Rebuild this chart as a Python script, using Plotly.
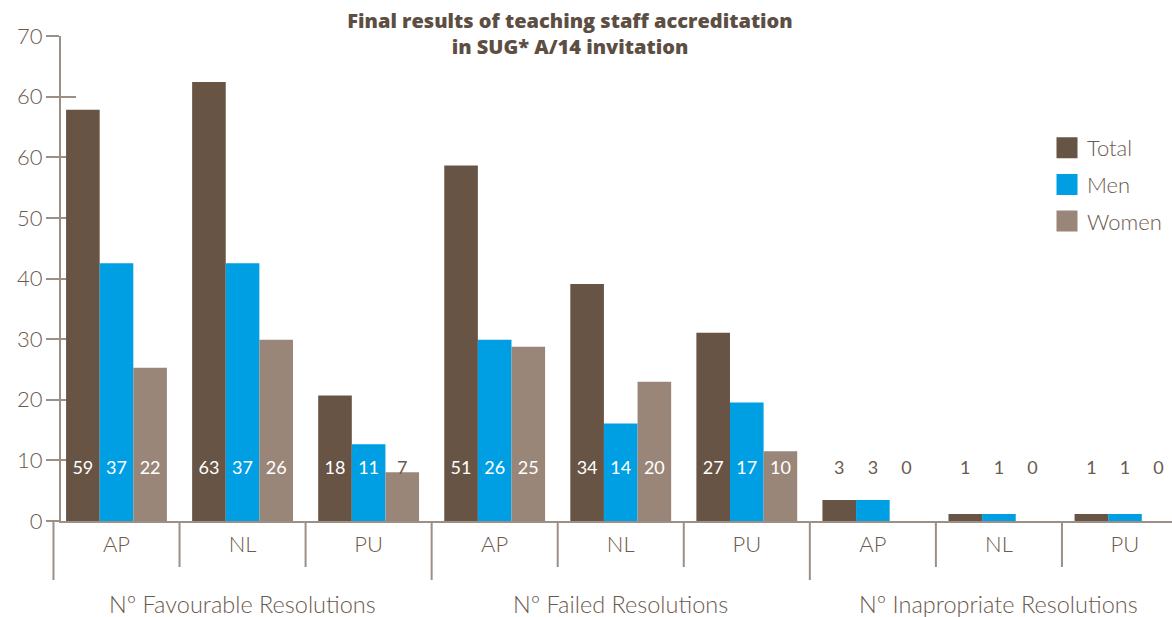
import plotly.graph_objects as go

# ---------------- data ----------------
groups = ["Nº Favourable Resolutions", "Nº Failed Resolutions", "Nº Inapropriate Resolutions"]
subcats = ["AP", "NL", "PU"]
series_names = ["Total", "Men", "Women"]
total = [59, 63, 18, 51, 34, 27, 3, 1, 1]
men = [37, 37, 11, 26, 14, 17, 3, 1, 1]
women = [22, 26, 7, 25, 20, 10, 0, 0, 0]
y_tick_labels = ["0", "10", "20", "30", "40", "50", "60", "60", "70"]

# ---------------- style / layout ----------------
W, H = 1172, 617
ML, MR, MT, MB = 61, 0, 36, 96
colors = ["#675445", "#009fe3", "#9a8678"]
txt_col = "#6b5a4e"
line_col = "#9c8f86"
title_col = "#5d4e44"
FONT = "Lato"

PX_PER_CAT = 126.06
X0 = -(116.5 - ML) / PX_PER_CAT
X1 = X0 + (W - ML - MR) / PX_PER_CAT
TICK_STEP = 8.7
Y_MAX = 8 * TICK_STEP
PLOT_H = H - MT - MB
LABEL_Y = 7.45
BAR_W = 0.8 / 3

n = len(total)
x_idx = list(range(n))
series = [total, men, women]

fig = go.Figure()

for name, vals, col in zip(series_names, series, colors):
    fig.add_trace(go.Bar(
        x=x_idx, y=vals, name=name, marker=dict(color=col, line=dict(width=0)),
        showlegend=False, hoverinfo="x+y+name",
    ))

# value labels
for k, (vals, col) in enumerate(zip(series, colors)):
    fig.add_trace(go.Scatter(
        x=[i + (k - 1) * BAR_W for i in x_idx],
        y=[LABEL_Y] * n,
        mode="text",
        text=[str(v) for v in vals],
        textposition="middle center",
        textfont=dict(family=FONT, size=18,
                      color=["#ffffff" if v >= 9 else txt_col for v in vals]),
        showlegend=False, hoverinfo="skip", yaxis="y2",
    ))

# legend entries
for k, (name, col) in enumerate(zip(series_names, colors)):
    fig.add_trace(go.Scatter(
        x=[None], y=[None], mode="markers", name=name, legendgroup=name,
        marker=dict(symbol="square", size=16, color=col, line=dict(color=col, width=5)),
    ))

# separators below the axis
shapes = []
for i in range(n):
    xd = i - 0.5
    xp = (xd - X0) / (X1 - X0)
    long = (i % 3 == 0)
    y_end = -(580 - (H - MB)) / PLOT_H if long else -(567 - (H - MB)) / PLOT_H
    shapes.append(dict(type="line", xref="paper", yref="paper",
                       x0=xp, x1=xp, y0=0, y1=y_end,
                       line=dict(color=line_col, width=2)))

annotations = []
for g, gname in enumerate(groups):
    xc = 3 * g + 1
    annotations.append(dict(
        x=(xc - X0) / (X1 - X0), xref="paper",
        y=-(604 - (H - MB)) / PLOT_H, yref="paper",
        text=gname, showarrow=False, xanchor="center", yanchor="middle",
        font=dict(family=FONT, size=23.5, color=txt_col, weight=300),
    ))

fig.update_layout(
    width=W, height=H,
    margin=dict(l=ML, r=MR, t=MT, b=MB, pad=0),
    paper_bgcolor="white", plot_bgcolor="white",
    barmode="group", bargap=0.2, bargroupgap=0,
    title=dict(
        text="Final results of teaching staff accreditation<br>in SUG* A/14 invitation",
        x=570 / W, xanchor="center", xref="container",
        y=1 - 28 / H, yanchor="middle", yref="container",
        font=dict(family="Open Sans", size=20, color=title_col, weight=800),
    ),
    xaxis=dict(
        range=[X0, X1], tickmode="array", tickvals=x_idx,
        ticktext=[subcats[i % 3] for i in x_idx],
        ticks="", showline=True, linecolor=line_col, linewidth=2,
        showgrid=False, zeroline=False, ticklabelstandoff=3,
        tickfont=dict(family=FONT, size=22, color=txt_col, weight=300),
        fixedrange=True,
    ),
    yaxis=dict(
        range=[0, Y_MAX], tickmode="array",
        tickvals=[k * TICK_STEP for k in range(len(y_tick_labels))],
        ticktext=y_tick_labels,
        ticks="outside", ticklen=13, tickwidth=1.5, tickcolor=line_col,
        showline=True, linecolor=line_col, linewidth=2,
        showgrid=False, zeroline=False, ticklabelstandoff=-1,
        tickfont=dict(family=FONT, size=22, color=txt_col, weight=300),
        fixedrange=True,
    ),
    yaxis2=dict(
        overlaying="y", anchor="x", side="left", range=[0, Y_MAX],
        tickmode="array", tickvals=[k * TICK_STEP for k in range(len(y_tick_labels))],
        ticks="inside", ticklen=15, tickwidth=1.5, tickcolor=line_col,
        showticklabels=False, showline=False, showgrid=False, zeroline=False,
        layer="below traces", fixedrange=True,
    ),
    legend=dict(
        x=(1047 - ML) / (W - ML - MR), xanchor="left",
        y=(H - MB - 127) / PLOT_H, yanchor="top",
        font=dict(family=FONT, size=22, color=txt_col, weight=300),
        tracegroupgap=5, bgcolor="rgba(0,0,0,0)", borderwidth=0,
    ),
    shapes=shapes,
    annotations=annotations,
)

fig.write_html(
    "out.html",
    config={"displayModeBar": False},
    post_script="document.body.style.margin='0';document.body.style.overflow='hidden';",
)
